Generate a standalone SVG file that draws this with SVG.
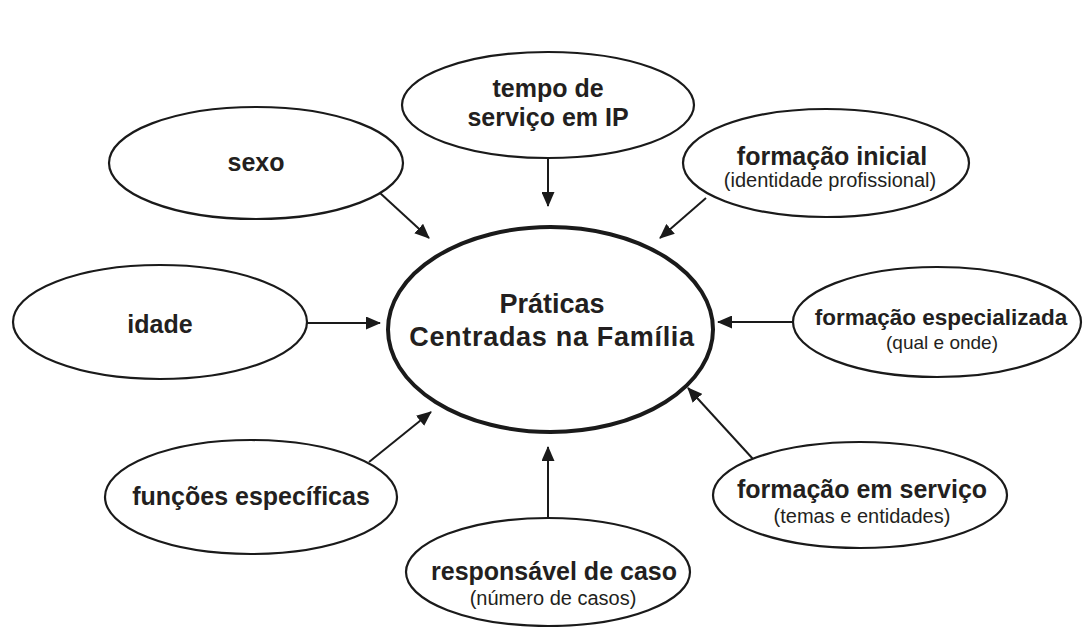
<svg xmlns="http://www.w3.org/2000/svg" width="1083" height="627" viewBox="0 0 1083 627">
<style>
.n{fill:#fff;stroke:#1a1a1a;stroke-width:2.2}
.c{fill:#fff;stroke:#1a1a1a;stroke-width:4}
.t{font-family:"Liberation Sans",Arial,sans-serif;font-weight:bold;font-size:25px;fill:#231f20;text-anchor:middle}
.s{font-family:"Liberation Sans",Arial,sans-serif;font-size:20px;fill:#231f20;text-anchor:middle}
.m{font-family:"Liberation Sans",Arial,sans-serif;font-weight:bold;font-size:27px;fill:#231f20;text-anchor:middle}
.e{stroke:#1a1a1a;stroke-width:2;fill:none;marker-end:url(#ah)}
</style>
<defs>
<marker id="ah" viewBox="0 0 15 13" refX="14" refY="6.5" markerWidth="15" markerHeight="13" markerUnits="userSpaceOnUse" orient="auto">
<path d="M0,0 L15,6.5 L0,13 z" fill="#1a1a1a"/>
</marker>
</defs>
<rect width="1083" height="627" fill="#fff"/>
<g id="connectors">
<line class="e" x1="380" y1="193" x2="429" y2="238"/>
<line class="e" x1="548" y1="158" x2="548" y2="206"/>
<line class="e" x1="706" y1="198" x2="660" y2="238"/>
<line class="e" x1="306" y1="323" x2="380" y2="323"/>
<line class="e" x1="793" y1="322" x2="718" y2="322"/>
<line class="e" x1="369" y1="462" x2="431" y2="412"/>
<line class="e" x1="548" y1="518" x2="548" y2="447"/>
<line class="e" x1="753" y1="459" x2="688" y2="388"/>
</g>
<g id="center">
<ellipse class="c" cx="550.5" cy="329.5" rx="162.5" ry="102.5"/>
<text class="m" x="552" y="313">Práticas</text>
<text class="m" x="552" y="346" style="letter-spacing:0.7px">Centradas na Família</text>
</g>
<g id="sexo">
<ellipse class="n" cx="256" cy="163" rx="147" ry="56"/>
<text class="t" x="256" y="171">sexo</text>
</g>
<g id="tempo">
<ellipse class="n" cx="548" cy="105" rx="146" ry="53"/>
<text class="t" x="548" y="97">tempo de</text>
<text class="t" x="548" y="126">serviço em IP</text>
</g>
<g id="formacao-inicial">
<ellipse class="n" cx="826" cy="163" rx="143" ry="54"/>
<text class="t" x="832" y="165">formação inicial</text>
<text class="s" x="830" y="187">(identidade profissional)</text>
</g>
<g id="idade">
<ellipse class="n" cx="160" cy="322" rx="147" ry="57"/>
<text class="t" x="160" y="333">idade</text>
</g>
<g id="formacao-especializada">
<ellipse class="n" cx="937" cy="322" rx="144" ry="55"/>
<text class="t" x="941" y="325" style="font-size:22.5px">formação especializada</text>
<text class="s" x="942" y="349" style="font-size:19px">(qual e onde)</text>
</g>
<g id="funcoes">
<ellipse class="n" cx="251" cy="497" rx="146" ry="57"/>
<text class="t" x="251" y="505">funções específicas</text>
</g>
<g id="formacao-servico">
<ellipse class="n" cx="860" cy="495" rx="147" ry="53"/>
<text class="t" x="862" y="498">formação em serviço</text>
<text class="s" x="862" y="523">(temas e entidades)</text>
</g>
<g id="responsavel">
<ellipse class="n" cx="548" cy="572" rx="142" ry="54"/>
<text class="t" x="554" y="580">responsável de caso</text>
<text class="s" x="553" y="605">(número de casos)</text>
</g>
</svg>
